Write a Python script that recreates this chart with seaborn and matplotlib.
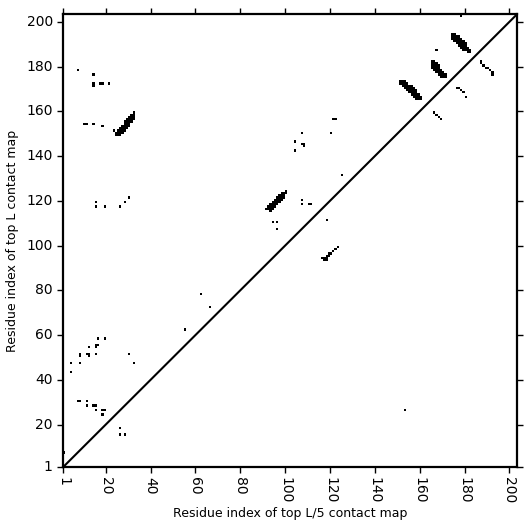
import numpy as np
import matplotlib
matplotlib.use("Agg")
import matplotlib.pyplot as plt
import seaborn as sns
from matplotlib.colors import ListedColormap

# sequence length
L = 203

# top L contacts (upper triangle), runs of (x, y_from, y_to)
top_l_runs = [
    (1, 7, 7), (4, 43, 43), (4, 47, 47), (8, 47, 47), (8, 50, 51), (11, 51, 51),
    (12, 50, 51), (12, 54, 54), (15, 54, 55), (16, 55, 55), (15, 51, 51),
    (16, 58, 58), (19, 58, 58), (30, 51, 51), (32, 47, 47),
    (7, 30, 30), (8, 30, 30), (11, 30, 30), (11, 28, 28), (14, 28, 28), (15, 28, 28),
    (15, 26, 26), (18, 26, 26), (19, 26, 26), (18, 24, 24),
    (55, 62, 62), (62, 78, 78), (66, 72, 72),
    (7, 178, 178), (14, 176, 176), (14, 171, 172), (17, 172, 172), (18, 172, 172),
    (21, 172, 172), (10, 154, 154), (11, 154, 154), (14, 154, 154), (18, 153, 153),
    (23, 151, 151),
    (24, 149, 150), (25, 149, 151), (26, 149, 152), (27, 150, 153), (28, 151, 155),
    (29, 152, 156), (30, 153, 157), (31, 155, 158), (32, 156, 159),
    (15, 119, 119), (15, 117, 117), (19, 117, 117), (26, 117, 117), (28, 119, 119),
    (30, 121, 121),
    (121, 156, 156), (122, 156, 156), (107, 150, 150), (120, 150, 150),
    (104, 146, 146), (107, 145, 145), (108, 144, 145), (104, 142, 142), (125, 131, 131),
    (91, 116, 116), (92, 116, 117), (93, 115, 118), (94, 116, 119), (95, 117, 120),
    (96, 118, 121), (97, 119, 122), (98, 120, 123), (99, 121, 123), (100, 123, 124),
    (107, 120, 120), (107, 118, 118), (110, 118, 118), (111, 118, 118),
    (94, 110, 110), (96, 110, 110), (96, 107, 107),
    (178, 202, 202), (167, 187, 187),
    (174, 192, 194), (175, 191, 194), (176, 190, 193), (177, 189, 193), (178, 188, 192),
    (179, 187, 191), (180, 187, 190), (181, 186, 188), (182, 186, 187),
    (165, 179, 182), (166, 178, 182), (167, 177, 181), (168, 176, 180), (169, 175, 178),
    (170, 175, 177), (171, 175, 176),
    (151, 172, 173), (152, 171, 173), (153, 170, 173), (154, 169, 172), (155, 168, 171),
    (156, 167, 171), (157, 166, 170), (158, 165, 169), (159, 165, 167), (160, 165, 166),
]

# top L/5 contacts (lower triangle)
top_l5_runs = [
    (187, 181, 182), (188, 180, 180), (189, 179, 179), (190, 179, 179), (191, 178, 178),
    (192, 176, 177),
    (176, 170, 170), (177, 170, 170), (178, 169, 169), (179, 168, 168), (180, 166, 166),
    (166, 159, 159), (167, 158, 158), (168, 157, 157), (169, 156, 156),
    (116, 94, 94), (117, 93, 94), (118, 93, 95), (119, 95, 96), (120, 96, 96),
    (121, 97, 97), (122, 98, 98), (123, 99, 99),
    (118, 111, 111), (153, 26, 26), (26, 18, 18), (26, 15, 15), (28, 15, 15),
]

tick_vals = [1, 20, 40, 60, 80, 100, 120, 140, 160, 180, 200]

# build the map, index = residue number
cmap_mat = np.zeros((L + 1, L + 1))
for x, y0, y1 in top_l_runs + top_l5_runs:
    cmap_mat[y0:y1 + 1, x] = 1

fig = plt.figure(figsize=(5.31, 5.31), dpi=100)
ax = fig.add_axes([0.119, 0.1205, 0.855, 0.853])

sns.heatmap(cmap_mat, cmap=ListedColormap(["white", "black"]), cbar=False,
            ax=ax, square=False, vmin=0, vmax=1)

lim = L + 0.5
ax.plot([1, lim], [1, lim], color="black", lw=1.5)
ax.set_xlim(1, lim)
ax.set_ylim(1, lim)

ax.set_xticks(tick_vals)
ax.set_xticklabels([str(t) for t in tick_vals], rotation=270)
ax.set_yticks(tick_vals)
ax.set_yticklabels([str(t) for t in tick_vals], rotation=0)
ax.tick_params(top=True, right=True, direction="out", length=4, width=1,
               labelsize=10, colors="black")

for sp in ax.spines.values():
    sp.set_visible(True)
    sp.set_linewidth(1.6)
    sp.set_color("black")

ax.set_xlabel("Residue index of top L/5 contact map", fontsize=9, labelpad=2)
ax.set_ylabel("Residue index of top L contact map", fontsize=9, labelpad=5)

fig.savefig("out.png", dpi=100)
